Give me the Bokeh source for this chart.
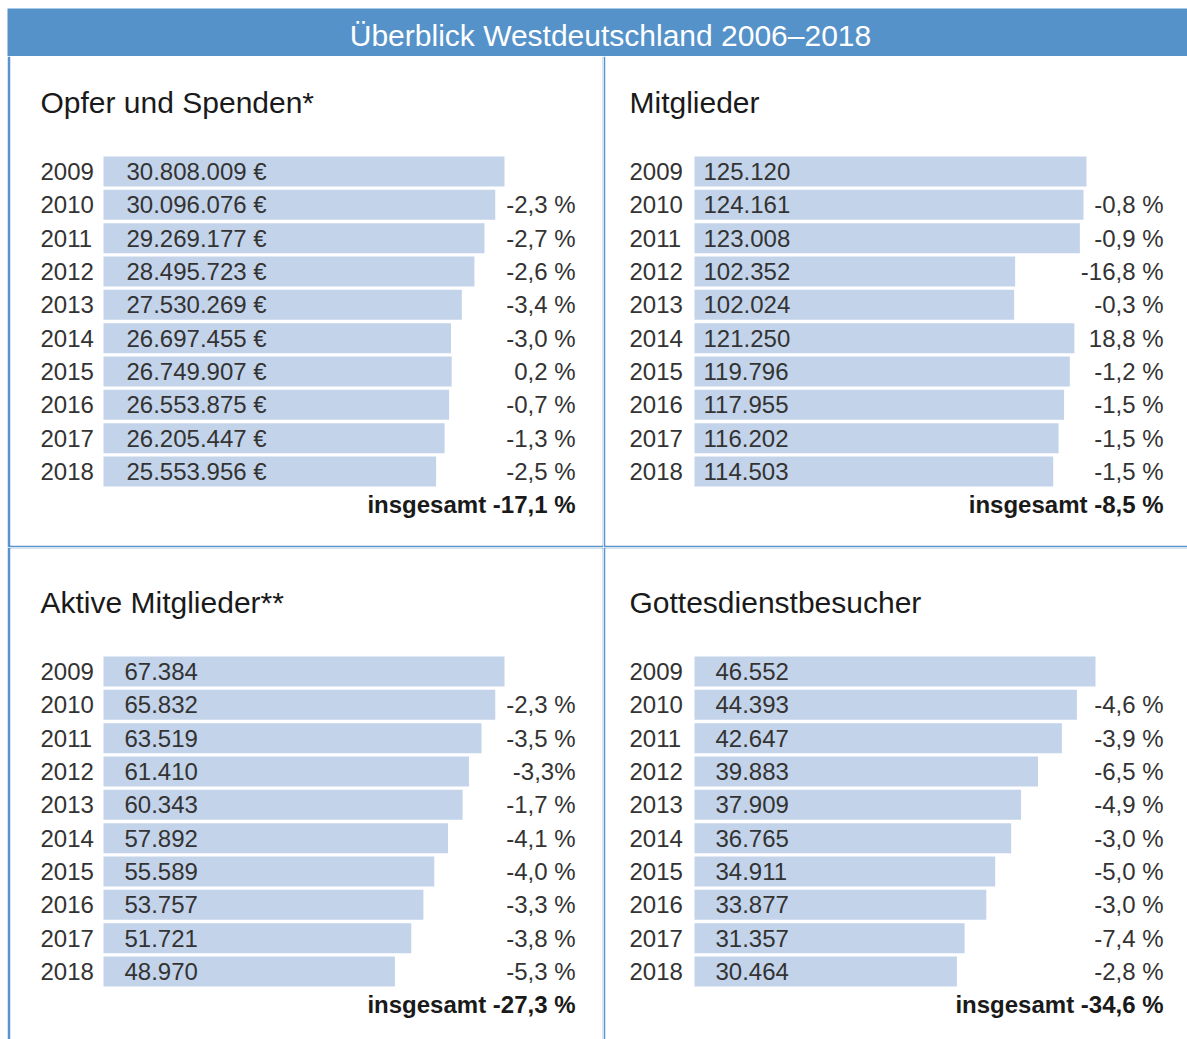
from bokeh.plotting import figure
from bokeh.layouts import column, row, Spacer
from bokeh.models import Range1d, ColumnDataSource
from bokeh.embed import file_html
from bokeh.resources import INLINE
from bokeh.core.properties import value

# ---------------- data ----------------
years = [2009, 2010, 2011, 2012, 2013, 2014, 2015, 2016, 2017, 2018]

opfer = [30808009, 30096076, 29269177, 28495723, 27530269,
         26697455, 26749907, 26553875, 26205447, 25553956]
opfer_pct = ["", "-2,3 %", "-2,7 %", "-2,6 %", "-3,4 %",
             "-3,0 %", "0,2 %", "-0,7 %", "-1,3 %", "-2,5 %"]
opfer_total = "insgesamt -17,1 %"

mitglieder = [125120, 124161, 123008, 102352, 102024,
              121250, 119796, 117955, 116202, 114503]
mitglieder_pct = ["", "-0,8 %", "-0,9 %", "-16,8 %", "-0,3 %",
                  "18,8 %", "-1,2 %", "-1,5 %", "-1,5 %", "-1,5 %"]
mitglieder_total = "insgesamt -8,5 %"

aktive = [67384, 65832, 63519, 61410, 60343,
          57892, 55589, 53757, 51721, 48970]
aktive_pct = ["", "-2,3 %", "-3,5 %", "-3,3%", "-1,7 %",
              "-4,1 %", "-4,0 %", "-3,3 %", "-3,8 %", "-5,3 %"]
aktive_total = "insgesamt -27,3 %"

gottes = [46552, 44393, 42647, 39883, 37909,
          36765, 34911, 33877, 31357, 30464]
gottes_pct = ["", "-4,6 %", "-3,9 %", "-6,5 %", "-4,9 %",
              "-3,0 %", "-5,0 %", "-3,0 %", "-7,4 %", "-2,8 %"]
gottes_total = "insgesamt -34,6 %"

main_title = "Überblick Westdeutschland 2006–2018"
titles = ["Opfer und Spenden*", "Mitglieder", "Aktive Mitglieder**", "Gottesdienstbesucher"]

# ---------------- style ----------------
FONT = value("Liberation Sans")
BLUE = "#5592C9"
LINE = "#5A94CB"
BAR = "#C3D3EA"
TXT = "#333333"
HEAD = "#1A1A1A"
PITCH = 33.33


def fmt(v, euro):
    s = f"{v:,}".replace(",", ".")
    return s + " €" if euro else s


def panel(title, vals, pcts, total, euro, width, height, mb,
          frame, bar0, barmax, row0, year_dx, val_dx, pct_dx):
    fl, ft, fr, fb = frame
    k = max(vals) / (barmax - bar0)
    x0 = -(bar0 - fl) * k
    x1 = (fr - bar0) * k
    ytop = years[0] - (row0 - ft) / PITCH
    ybot = years[0] + (fb - row0) / PITCH
    p = figure(width=width, height=height, output_backend="svg",
               toolbar_location=None, x_axis_location=None, y_axis_location=None,
               x_range=Range1d(x0, x1), y_range=Range1d(ybot, ytop),
               min_border=0, background_fill_color="white",
               border_fill_color=LINE, outline_line_color=None)
    p.min_border_left, p.min_border_right, p.min_border_top, p.min_border_bottom = mb
    for g in p.grid:
        g.visible = False
    src = ColumnDataSource(dict(
        year=years, val=vals,
        year_lbl=[str(y) for y in years],
        val_lbl=[fmt(v, euro) for v in vals],
        pct=pcts))
    p.hbar(y="year", left=0, right="val", height=0.9, source=src,
           fill_color=BAR, line_color=None)
    common = dict(text_font=FONT, text_baseline="middle")
    p.text(x=0, y="year", text="year_lbl", source=src, x_offset=year_dx,
           text_align="left", text_font_size="24px", text_color=TXT, **common)
    p.text(x=0, y="year", text="val_lbl", source=src, x_offset=val_dx,
           text_align="left", text_font_size="24px", text_color=TXT, **common)
    p.text(x=x1, y="year", text="pct", source=src, x_offset=pct_dx,
           text_align="right", text_font_size="24px", text_color=TXT, **common)
    p.text(x=[0], y=[years[0]], text=[title], x_offset=year_dx, y_offset=-69,
           text_align="left", text_font_size="30px", text_color=HEAD, **common)
    p.text(x=[x1], y=[years[-1]], text=[total], x_offset=pct_dx, y_offset=33,
           text_align="right", text_font_size="24px", text_font_style="bold",
           text_color=HEAD, **common)
    return p


# title bar (white margin at top/left, blue bar)
tb = figure(width=1187, height=56, output_backend="svg", toolbar_location=None,
            x_axis_location=None, y_axis_location=None,
            x_range=Range1d(0, 1), y_range=Range1d(0, 1), min_border=0,
            background_fill_color=BLUE, border_fill_color="white",
            outline_line_color=None)
tb.min_border_top = 8
tb.min_border_left = 7
for g in tb.grid:
    g.visible = False
tb.text(x=[0.5], y=[0.5], text=[main_title], x_offset=13, y_offset=3,
        text_align="center", text_baseline="middle", text_color="white",
        text_font=FONT, text_font_size="30px")

# panels (frame coords in image pixels: left, top, right, bottom)
p1 = panel(titles[0], opfer, opfer_pct, opfer_total, True, 596, 491, (3, 1, 0, 2),
           (10, 56, 602, 545), 103, 504, 171, -63, 23, -27)
p2 = panel(titles[1], mitglieder, mitglieder_pct, mitglieder_total, False, 584, 491,
           (2, 0, 0, 2), (605, 56, 1187, 545), 694, 1086, 171, -65, 9, -24)
p3 = panel(titles[2], aktive, aktive_pct, aktive_total, False, 596, 492, (3, 1, 1, 0),
           (10, 548, 602, 1039), 103, 504, 671, -63, 21, -27)
p4 = panel(titles[3], gottes, gottes_pct, gottes_total, False, 584, 492,
           (2, 0, 1, 0), (605, 548, 1187, 1039), 694, 1095, 671, -65, 21, -24)

layout = column(tb,
                row(Spacer(width=7, height=491), p1, p2),
                row(Spacer(width=7, height=492), p3, p4))

open("out.html", "w").write(file_html(layout, INLINE))
